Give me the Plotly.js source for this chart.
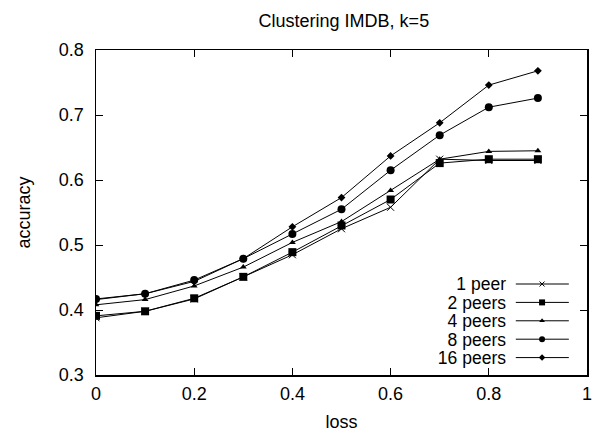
<!DOCTYPE html>
<html><head><meta charset="utf-8">
<script src="https://cdn.plot.ly/plotly-3.0.1.min.js"></script>
<style>html,body{margin:0;padding:0;background:#fff}#plot{width:597px;height:437px}</style>
</head><body><div id="plot"></div>
<script>
const loss = [0, 0.1, 0.2, 0.3, 0.4, 0.5, 0.6, 0.7, 0.8, 0.9];
const seriesNames = ["1 peer", "2 peers", "4 peers", "8 peers", "16 peers"];
const peer1  = [0.388, 0.398, 0.417, 0.451, 0.485, 0.525, 0.558, 0.632, 0.630, 0.630];
const peers2 = [0.391, 0.398, 0.418, 0.451, 0.489, 0.530, 0.570, 0.626, 0.632, 0.632];
const peers4 = [0.408, 0.416, 0.437, 0.466, 0.504, 0.536, 0.584, 0.632, 0.644, 0.645];
const peers8 = [0.417, 0.425, 0.446, 0.479, 0.517, 0.555, 0.615, 0.669, 0.712, 0.726];
const peers16 = [0.416, 0.425, 0.444, 0.479, 0.528, 0.573, 0.637, 0.688, 0.746, 0.768];
const xTicks = [0, 0.2, 0.4, 0.6, 0.8, 1];
const yTicks = [0.3, 0.4, 0.5, 0.6, 0.7, 0.8];

const allY = [peer1, peers2, peers4, peers8, peers16];
const markers = [
  {symbol: "x-thin-open", size: 7, line: {width: 1, color: "#000"}},
  {symbol: "square", size: 8},
  {symbol: "triangle-up", size: 6},
  {symbol: "circle", size: 8},
  {symbol: "diamond", size: 6}
];
const traces = [];
allY.forEach((ys, i) => {
  traces.push({x: loss, y: ys, type: "scatter", mode: "lines+markers", name: seriesNames[i],
    line: {color: "#000", width: 1},
    marker: Object.assign({color: "#000"}, markers[i]), showlegend: false, hoverinfo: "skip"});
});
// custom legend (symbol after text) on a hidden overlay axis with range [0,1]
const legY0 = 0.28, legStep = 0.0566;
const legX = [], legY = [];
allY.forEach((ys, i) => {
  const yy = legY0 - i * legStep;
  legX.push(0.835); legY.push(yy - 0.006);
  traces.push({x: [0.855, 0.9537, 0.963], y: [yy, yy, yy], xaxis: "x2", yaxis: "y2",
    type: "scatter", mode: "lines", line: {color: "#000", width: 1}, showlegend: false, hoverinfo: "skip"});
  traces.push({x: [0.9085], y: [yy], xaxis: "x2", yaxis: "y2", type: "scatter", mode: "markers",
    marker: Object.assign({color: "#000"}, markers[i], {size: Math.max(5, markers[i].size - 2)}),
    showlegend: false, hoverinfo: "skip"});
});
traces.push({x: legX, y: legY, text: seriesNames, xaxis: "x2", yaxis: "y2", type: "scatter", mode: "text",
  textposition: "middle left", textfont: {size: 17.5, color: "#000"}, showlegend: false, hoverinfo: "skip", cliponaxis: false});
const axisCommon = {showgrid: false, zeroline: false, showline: true, mirror: "ticks",
  linecolor: "#000", linewidth: 1.5, ticks: "inside", ticklen: 7, tickcolor: "#000", tickwidth: 1,
  tickfont: {size: 18, color: "#000"}};
const layout = {
  width: 597, height: 437,
  margin: {l: 96, r: 10, t: 50, b: 62},
  paper_bgcolor: "#fff", plot_bgcolor: "#fff",
  font: {family: "Liberation Sans, Arial, sans-serif", color: "#000"},
  title: {text: "Clustering IMDB, k=5", font: {size: 18}, x: 0.576, xanchor: "center", y: 0.952, yanchor: "middle"},
  xaxis: Object.assign({}, axisCommon, {range: [0, 1], tickvals: xTicks, ticktext: xTicks.map(String),
    ticklabelstandoff: 2,
    title: {text: "loss", font: {size: 18}, standoff: 12}}),
  yaxis: Object.assign({}, axisCommon, {range: [0.3, 0.8], tickvals: yTicks, ticktext: yTicks.map(v => v.toFixed(1)),
    ticklabelstandoff: 7,
    title: {text: "accuracy", font: {size: 18}, standoff: 23}}),
  xaxis2: {overlaying: "x", range: [0, 1], visible: false, fixedrange: true},
  yaxis2: {overlaying: "y", range: [0, 1], visible: false, fixedrange: true},
  showlegend: false
};
Plotly.newPlot("plot", traces, layout, {staticPlot: true});
</script></body></html>
